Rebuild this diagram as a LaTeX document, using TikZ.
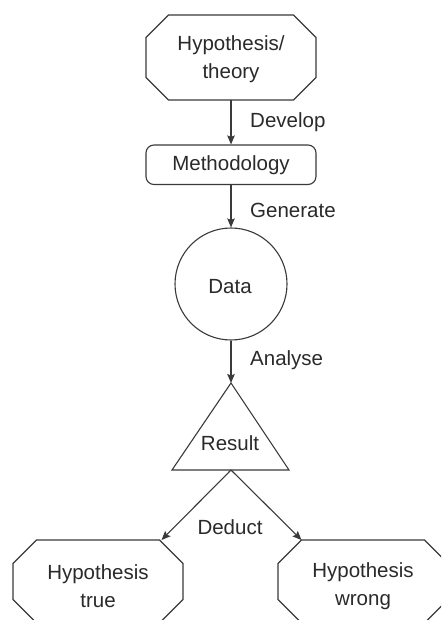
\documentclass[tikz,border=0pt]{standalone}
\usepackage{fontspec}
\setmainfont{Liberation Sans}
\usetikzlibrary{arrows.meta}
\definecolor{ln}{HTML}{3A3A3A}
\definecolor{tx}{HTML}{2A2A2A}
\newcommand\octopath[5]{% cx, cy, half width, half height, chamfer
  ({#1-#3+#5},{#2-#4}) -- ({#1+#3-#5},{#2-#4}) -- ({#1+#3},{#2-#4+#5}) -- ({#1+#3},{#2+#4-#5})
  -- ({#1+#3-#5},{#2+#4}) -- ({#1-#3+#5},{#2+#4}) -- ({#1-#3},{#2+#4-#5}) -- ({#1-#3},{#2-#4+#5}) -- cycle}
\begin{document}
\begin{tikzpicture}[x=1pt,y=-1pt,
  shapeline/.style={draw=ln,line width=1.1pt},
  conn/.style={draw=ln,line width=1.1pt,-{Stealth[length=9pt,width=7.5pt,inset=1.5pt]}},
  txt/.style={text=tx,font=\fontsize{20.5}{28}\selectfont,align=center,inner sep=0pt},
  lbl/.style={text=tx,font=\fontsize{20.5}{28}\selectfont,anchor=west,inner sep=0pt}]
\useasboundingbox (0,0) rectangle (441,620);
\clip (0,0) rectangle (441,620);
\fill[white] (0,0) rectangle (441,620);
% Hypothesis/theory octagon
\draw[shapeline] \octopath{231}{57.5}{85}{42.5}{22.5};
\node[txt] (hyp) at (231,59) {Hypothesis/\\theory};
\coordinate (hypB) at (231,100);
% Methodology
\node[shapeline,rectangle,rounded corners=8pt,minimum width=170pt,minimum height=39.5pt,inner sep=0pt] (meth) at (231,164.75) {};
\node[txt] (methT) at (231,165) {Methodology};
% Data
\node[shapeline,circle,minimum size=112pt,inner sep=0pt] (data) at (231,284) {};
\node[txt] (dataT) at (230,287) {Data};
% Result triangle
\coordinate (resA) at (231,383);
\coordinate (resL) at (172,470);
\coordinate (resR) at (289,470);
\coordinate (resB) at (231,470);
\draw[shapeline,line join=miter] (resA) -- (resR) -- (resL) -- cycle;
\node[txt] (resT) at (230,443) {Result};
% bottom octagons
\draw[shapeline] \octopath{98}{581.5}{85}{41.5}{23.5};
\draw[shapeline] \octopath{363}{581.5}{85}{41.5}{23.5};
\coordinate (trueC) at (161.5,540);
\coordinate (wrongC) at (301.5,540);
\node[txt] (trueT) at (98,586) {Hypothesis\\true};
\node[txt] (wrongT) at (363,586) {Hypothesis\\wrong};
% connectors
\draw[conn] (hypB) -- (meth.north);
\draw[conn] (meth.south) -- (data.north);
\draw[conn] (data.south) -- (resA);
\draw[conn] (resB) -- (trueC);
\draw[conn] (resB) -- (wrongC);
% labels
\node[lbl] (dev) at (250,122) {Develop};
\node[lbl] (gen) at (250,210) {Generate};
\node[lbl] (ana) at (250,360) {Analyse};
\node[txt] (ded) at (230,527) {Deduct};
\end{tikzpicture}
\end{document}
